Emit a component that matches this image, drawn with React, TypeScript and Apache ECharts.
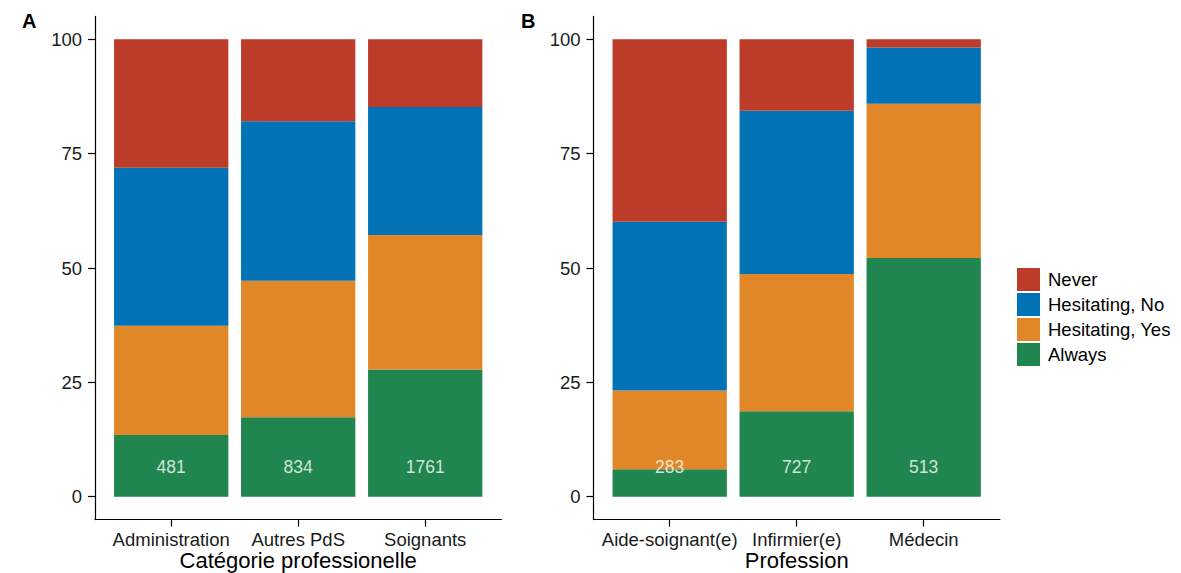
import React, { useEffect, useRef } from "react";
import * as echarts from "echarts";

const catsA = ["Administration", "Autres PdS", "Soignants"];
const catsB = ["Aide-soignant(e)", "Infirmier(e)", "Médecin"];
const levels = ["Never", "Hesitating, No", "Hesitating, Yes", "Always"];
const colors: Record<string, string> = {
  Never: "#BC3C29",
  "Hesitating, No": "#0072B5",
  "Hesitating, Yes": "#E18727",
  Always: "#20854E",
};

// percentages per segment (bottom to top: Always, Hesitating Yes, Hesitating No, Never)
const alwaysA = [13.5, 17.4, 27.8];
const hesYesA = [23.9, 29.8, 29.4];
const hesNoA = [34.5, 34.9, 28.0];
const neverA = [28.1, 17.9, 14.8];

const alwaysB = [6.0, 18.7, 52.2];
const hesYesB = [17.2, 30.0, 33.7];
const hesNoB = [36.9, 35.7, 12.3];
const neverB = [39.9, 15.6, 1.8];

const countsA = [481, 834, 1761];
const countsB = [283, 727, 513];
const countLabelY = 6.6;

const yTicks = [0, 25, 50, 75, 100];
const xTicks = [1, 2, 3];

const FONT = "Liberation Sans, Arial, Helvetica, sans-serif";

export default function App() {
  const ref = useRef<HTMLDivElement>(null);
  useEffect(() => {
    if (!ref.current) return;
    const chart = echarts.init(ref.current, undefined, { renderer: "svg" });

    const TOP = 16.4;
    const H = 503.2;
    const W = 406.4;
    const band = W / 3.2;
    const leftA = 95;
    const leftB = 593.5;

    // outer grids (0,1): axes with ticks/labels; inner grids (2,3): bars on category axes
    const mkXOuter = (gridIndex: number, cats: string[], name: string) => ({
      type: "value",
      gridIndex,
      min: 0.4,
      max: 3.6,
      name,
      nameLocation: "middle",
      nameGap: 30,
      nameMoveOverlap: false,
      nameTextStyle: { fontSize: 22, color: "#000", fontFamily: FONT, lineHeight: 22 },
      axisLine: { show: true, onZero: false, lineStyle: { color: "#000", width: 1.2 } },
      axisTick: { show: true, length: 7, customValues: xTicks, lineStyle: { color: "#000", width: 1.2 } },
      axisLabel: {
        customValues: xTicks,
        margin: 10,
        fontSize: 18.5,
        color: "#1a1a1a",
        fontFamily: FONT,
        formatter: (v: number) => cats[Math.round(v) - 1] ?? "",
      },
      splitLine: { show: false },
    });
    const mkYOuter = (gridIndex: number) => ({
      type: "value",
      gridIndex,
      min: -5,
      max: 105,
      axisLine: { show: true, onZero: false, lineStyle: { color: "#000", width: 1.2 } },
      axisTick: { show: true, length: 7, customValues: yTicks, lineStyle: { color: "#000", width: 1.2 } },
      axisLabel: {
        customValues: yTicks,
        margin: 13,
        fontSize: 18.5,
        color: "#1a1a1a",
        fontFamily: FONT,
      },
      splitLine: { show: false },
    });
    const mkXInner = (gridIndex: number, cats: string[]) => ({
      type: "category",
      gridIndex,
      data: cats,
      show: false,
    });
    const mkYInner = (gridIndex: number) => ({
      type: "value",
      gridIndex,
      min: -5,
      max: 105,
      show: false,
      splitLine: { show: false },
    });

    const mkBars = (idx: number, segs: number[][], stack: string) =>
      ["Always", "Hesitating, Yes", "Hesitating, No", "Never"].map((lvl, i) => ({
        type: "bar",
        name: lvl,
        xAxisIndex: idx,
        yAxisIndex: idx,
        stack,
        barWidth: "90%",
        itemStyle: { color: colors[lvl] },
        data: segs[i],
      }));

    const mkCounts = (idx: number, counts: number[]) => ({
      type: "scatter",
      xAxisIndex: idx,
      yAxisIndex: idx,
      symbolSize: 0,
      z: 10,
      silent: true,
      data: counts.map((c, j) => [j, countLabelY, c]),
      label: {
        show: true,
        position: "inside",
        formatter: (p: any) => String(p.data[2]),
        color: "#fff",
        fontSize: 17.5,
        fontFamily: FONT,
      },
    });

    chart.setOption({
      animation: false,
      backgroundColor: "#fff",
      textStyle: { fontFamily: FONT },
      grid: [
        { left: leftA, top: TOP, width: W, height: H, outerBoundsMode: "none" },
        { left: leftB, top: TOP, width: W, height: H, outerBoundsMode: "none" },
        { left: leftA + 0.1 * band, top: TOP, width: 3 * band, height: H, outerBoundsMode: "none" },
        { left: leftB + 0.1 * band, top: TOP, width: 3 * band, height: H, outerBoundsMode: "none" },
      ],
      xAxis: [
        mkXOuter(0, catsA, "Catégorie professionelle"),
        mkXOuter(1, catsB, "Profession"),
        mkXInner(2, catsA),
        mkXInner(3, catsB),
      ],
      yAxis: [mkYOuter(0), mkYOuter(1), mkYInner(2), mkYInner(3)],
      legend: {
        data: levels,
        orient: "vertical",
        left: 1012,
        top: 263,
        itemWidth: 23,
        itemHeight: 23,
        itemGap: 2,
        icon: "rect",
        textStyle: { fontSize: 18.5, color: "#000", fontFamily: FONT, padding: [0, 0, 0, 3] },
      },
      graphic: [
        { type: "text", left: 22, top: 11, style: { text: "A", font: `bold 20px ${FONT}`, fill: "#000" } },
        { type: "text", left: 521, top: 11, style: { text: "B", font: `bold 20px ${FONT}`, fill: "#000" } },
      ],
      series: [
        ...mkBars(2, [alwaysA, hesYesA, hesNoA, neverA], "A"),
        ...mkBars(3, [alwaysB, hesYesB, hesNoB, neverB], "B"),
        mkCounts(2, countsA),
        mkCounts(3, countsB),
      ],
    });
    return () => chart.dispose();
  }, []);
  return (
    <div
      ref={ref}
      style={{ position: "fixed", left: 0, top: 0, width: 1181, height: 573, background: "#fff" }}
    />
  );
}
